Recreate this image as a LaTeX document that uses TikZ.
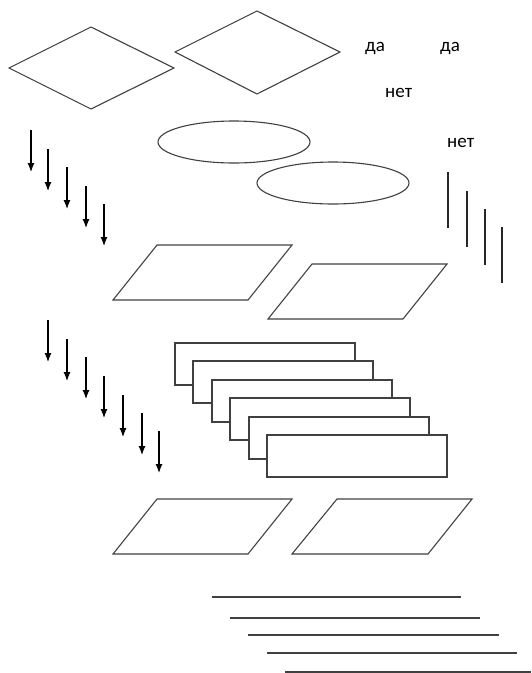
\documentclass[tikz,border=0pt]{standalone}
\usepackage{fontspec}
\setmainfont{Carlito}
\usetikzlibrary{arrows.meta}
\begin{document}
\begin{tikzpicture}[x=1pt,y=-1pt,
  figure/.style={draw=black!75, line width=1.1pt, fill=white, line join=miter},
  arr/.style={draw=black, line width=1.2pt, -{Latex[length=9pt,width=7pt]}},
  vline/.style={draw=black!85, line width=1.3pt},
  hline/.style={draw=black!75, line width=1.3pt},
  lbl/.style={anchor=base west, inner sep=0pt, font=\fontsize{19}{22}\selectfont}]
\useasboundingbox (0,0) rectangle (531,673);
% diamonds
\draw[figure] (9,68) -- (91,27) -- (174,68) -- (91,109) -- cycle;
\draw[figure] (175,52) -- (257,11) -- (340,52) -- (257,94) -- cycle;
% labels
\node[lbl] (da1) at (365,51) {да};
\node[lbl] (da2) at (440,51) {да};
\node[lbl] (net1) at (385,97) {нет};
\node[lbl] (net2) at (447,147) {нет};
% ellipses
\draw[figure] (234,142) ellipse [x radius=76pt, y radius=21pt];
\draw[figure] (333,183) ellipse [x radius=76pt, y radius=21pt];
% first arrow group
\foreach \x/\y in {31/130, 48/149, 67/167, 86/186, 104/204}
  \draw[arr] (\x,\y) -- (\x,\y+42);
% vertical lines
\foreach \x/\y in {448/172, 467/191, 485/209, 502/227}
  \draw[vline] (\x,\y) -- (\x,\y+56);
% parallelograms
\draw[figure] (113,300) -- (157,245) -- (292,245) -- (248,300) -- cycle;
\draw[figure] (268,319) -- (312,264) -- (447,264) -- (403,319) -- cycle;
% second arrow group
\foreach \x/\y in {48/320, 67/339, 86/357, 104/376, 123/395, 142/413, 159/431}
  \draw[arr] (\x,\y) -- (\x,\y+42);
% stacked rectangles
\foreach \x/\y in {175/343, 193/361, 212/380, 230/398, 249/417, 267/435}
  \draw[figure] (\x,\y) rectangle ++(180,42);
% bottom parallelograms
\draw[figure] (113,554) -- (157,499) -- (292,499) -- (248,554) -- cycle;
\draw[figure] (292,554) -- (337,499) -- (472,499) -- (428,554) -- cycle;
% horizontal lines
\draw[hline] (212,597) -- (461,597);
\draw[hline] (230,618) -- (480,618);
\draw[hline] (248,635) -- (499,635);
\draw[hline] (267,653) -- (517,653);
\draw[hline] (285,672) -- (531,672);
\end{tikzpicture}
\end{document}
